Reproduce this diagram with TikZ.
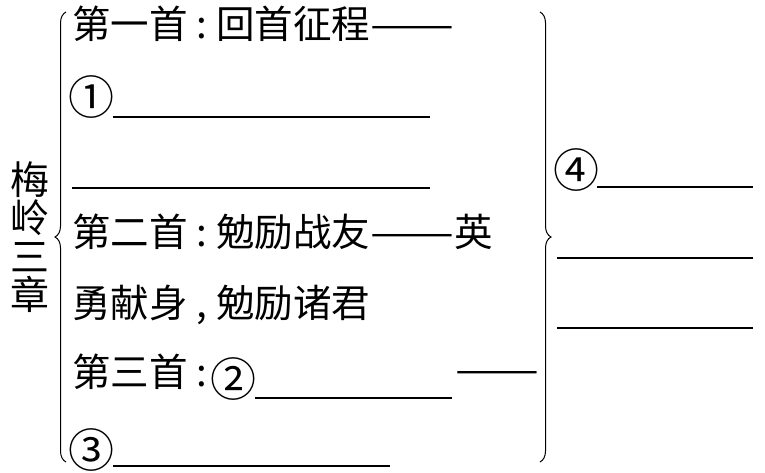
\documentclass[tikz,border=0pt]{standalone}
\usepackage{fontspec}
\newfontfamily\cjk{Noto Sans CJK SC}
\usetikzlibrary{decorations.pathreplacing}
\newcommand\pcolon{\makebox[0.74em]{:}}
\newcommand\pcomma{\makebox[0.74em]{,}}
\newcommand\pdash{\scalebox{1.3}[1]{——}}
\begin{document}
\begin{tikzpicture}[x=1pt,y=1pt,
  row/.style={anchor=west,inner sep=0pt,text height=0.88em,text depth=0.12em,font=\cjk\fontsize{38.5}{38.5}\selectfont},
  circ/.style={anchor=center,inner sep=0pt,font=\cjk\fontsize{46}{46}\selectfont},
  blank/.style={line width=1.3pt},
  br/.style={decorate,decoration={brace,amplitude=11pt},line width=1pt}]
\useasboundingbox (0,0) rectangle (765,473);
\node[align=center,inner sep=0pt,font=\cjk\fontsize{39}{38.5}\selectfont] (title) at (30,236) {梅\\岭\\三\\章};
\draw[br] (66,11) -- (66,461);
\draw[br] (540,461) -- (540,11);
\node[row] (r1) at (72,438) {第一首\pcolon 回首征程\pdash};
\node[circ] (c1) at (91,376) {①};
\draw[blank] (113,356) -- (430,356);
\draw[blank] (72,285) -- (430,285);
\node[row] (r4) at (72,230) {第二首\pcolon 勉励战友\pdash 英};
\node[row] (r5) at (72,159) {勇献身\pcomma 勉励诸君};
\node[row] (r6) at (72,90) {第三首\pcolon};
\node[circ] (c2) at (233,94) {②};
\draw[blank] (255,75) -- (452,75);
\node[row] (r6b) at (455,93) {\pdash};
\node[circ] (c3) at (91,23) {③};
\draw[blank] (113,7) -- (390,7);
\node[circ] (c4) at (576,303) {④};
\draw[blank] (597,286) -- (753,286);
\draw[blank] (557,215) -- (753,215);
\draw[blank] (557,145) -- (753,145);
\end{tikzpicture}
\end{document}
